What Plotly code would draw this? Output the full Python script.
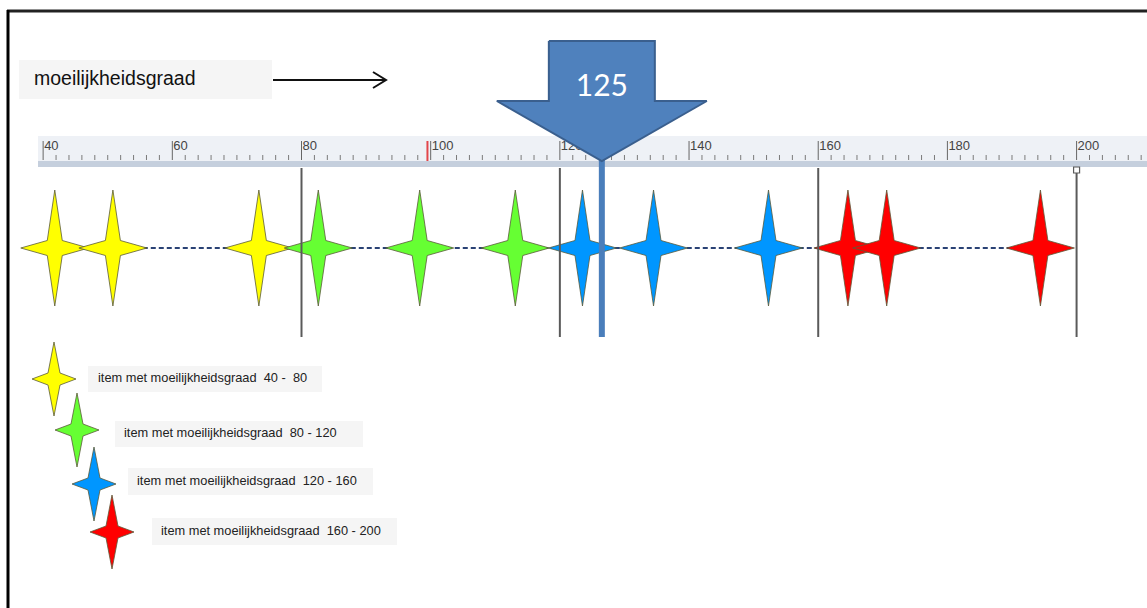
import plotly.graph_objects as go

# ---------------- data ----------------
band_edges = [40, 80, 120, 160, 200]
band_colors = ["#ffff00", "#66ff33", "#0096ff", "#ff0000"]
items_yellow = [41.8, 50.8, 73.4]
items_green = [82.6, 98.3, 113.1]
items_blue = [123.5, 134.5, 152.3]
items_red = [164.6, 170.6, 194.4]
item_groups = [items_yellow, items_green, items_blue, items_red]
major_ticks = [40, 60, 80, 100, 120, 140, 160, 180, 200]
minor_step = 2
cursor_value = 99.5          # red marker on the ruler
ability_value = 126.5        # position of the big arrow
ability_label = "125"
axis_title = "moeilijkheidsgraad"

# ---------------- geometry / style ----------------
W, H = 1147, 608
PX_PER_UNIT = 6.459
X0_VAL, X0_PX = 80, 301.5
x_min = X0_VAL - X0_PX / PX_PER_UNIT
x_max = X0_VAL + (W - X0_PX) / PX_PER_UNIT

STAR_Y = 248
RULER_TOP, RULER_BAND, RULER_BOT = 136, 161, 167

fig = go.Figure()


def star(cx, cy, hw, hh, iw, ih):
    xs = [cx, cx + iw, cx + hw, cx + iw, cx, cx - iw, cx - hw, cx - iw, cx]
    ys = [cy - hh, cy - ih, cy, cy + ih, cy + hh, cy + ih, cy, cy - ih, cy - hh]
    return xs, ys


def px(v):  # pixel width -> data units
    return v / PX_PER_UNIT


shapes = []
shapes.append(dict(type="rect", xref="x2", yref="y", x0=38, x1=W, y0=RULER_TOP, y1=RULER_BAND,
                   fillcolor="#eef1f6", line=dict(width=0), layer="below"))
shapes.append(dict(type="rect", xref="x2", yref="y", x0=38, x1=W, y0=RULER_BAND, y1=RULER_BOT,
                   fillcolor="#c5cfdd", line=dict(width=0), layer="below"))
# frame lines
shapes.append(dict(type="line", xref="x2", yref="y", x0=7, x1=W, y0=11, y1=11,
                   line=dict(color="#222222", width=3)))
shapes.append(dict(type="line", xref="x2", yref="y", x0=8, x1=8, y0=10, y1=H,
                   line=dict(color="#000000", width=3)))
# title box
shapes.append(dict(type="rect", xref="x2", yref="y", x0=19, x1=272, y0=60, y1=99,
                   fillcolor="#f5f5f5", line=dict(width=0), layer="below"))
# legend boxes
legend_boxes = [(88, 322, 366, 392), (115, 363, 421, 447), (128, 373, 468, 495), (152, 397, 518, 545)]
for (bx0, bx1, by0, by1) in legend_boxes:
    shapes.append(dict(type="rect", xref="x2", yref="y", x0=bx0, x1=bx1, y0=by0, y1=by1,
                       fillcolor="#f5f5f5", line=dict(width=0), layer="below"))

# minor ticks
minor_vals = [v for v in range(42, 211, minor_step) if v not in major_ticks]
mx, my = [], []
for v in minor_vals:
    mx += [v, v, None]
    my += [155, 160, None]
fig.add_trace(go.Scatter(x=mx, y=my, mode="lines", line=dict(color="#7a7a7a", width=1),
                         hoverinfo="skip", showlegend=False))
# major ticks
Mx, My = [], []
for v in major_ticks:
    Mx += [v, v, None]
    My += [141, 160, None]
fig.add_trace(go.Scatter(x=Mx, y=My, mode="lines", line=dict(color="#666666", width=1),
                         hoverinfo="skip", showlegend=False))
fig.add_trace(go.Scatter(x=[v + px(1) for v in major_ticks], y=[147] * len(major_ticks),
                         mode="text", text=[str(v) for v in major_ticks],
                         textposition="middle right",
                         textfont=dict(family="Liberation Sans, Arial", size=13, color="#444444"),
                         hoverinfo="skip", showlegend=False))
# red cursor on ruler
fig.add_trace(go.Scatter(x=[cursor_value, cursor_value], y=[141, 161], mode="lines",
                         line=dict(color="#e2454a", width=2), hoverinfo="skip", showlegend=False))

# dashed connector line
all_items = [v for g in item_groups for v in g]
fig.add_trace(go.Scatter(x=[min(all_items), max(all_items)], y=[STAR_Y, STAR_Y], mode="lines",
                         line=dict(color="#2a4275", width=2, dash="5px,3px"),
                         hoverinfo="skip", showlegend=False))

# item stars
for vals, col in zip(item_groups, band_colors):
    for v in vals:
        xs, ys = star(v, STAR_Y, px(34), 58, px(7.5), 7.5)
        fig.add_trace(go.Scatter(x=xs, y=ys, mode="lines", fill="toself", fillcolor=col,
                                 line=dict(color="#5a5a3a", width=0.8),
                                 hoverinfo="skip", showlegend=False))

# band boundary lines
for v in band_edges[1:]:
    fig.add_trace(go.Scatter(x=[v, v], y=[168, 337], mode="lines",
                             line=dict(color="#5a5a5a", width=2),
                             hoverinfo="skip", showlegend=False))
fig.add_trace(go.Scatter(x=[band_edges[-1]], y=[170], mode="markers",
                         marker=dict(symbol="square", size=6, color="white",
                                     line=dict(color="#5a5a5a", width=1.2)),
                         hoverinfo="skip", showlegend=False))

# ability line + arrow
fig.add_trace(go.Scatter(x=[ability_value, ability_value], y=[160, 337], mode="lines",
                         line=dict(color="#4a7ebb", width=6), hoverinfo="skip", showlegend=False))
sw, hw = px(53), px(105)
ax = [ability_value - sw, ability_value + sw, ability_value + sw, ability_value + hw,
      ability_value, ability_value - hw, ability_value - sw, ability_value - sw]
ay = [41, 41, 101, 101, 161, 101, 101, 41]
fig.add_trace(go.Scatter(x=ax, y=ay, mode="lines", fill="toself", fillcolor="#4f81bd",
                         line=dict(color="#3a5f8e", width=2), hoverinfo="skip", showlegend=False))
fig.add_trace(go.Scatter(x=[ability_value], y=[88], mode="text", text=[ability_label],
                         textfont=dict(family="Lato, Open Sans", size=30, color="white"),
                         hoverinfo="skip", showlegend=False))

# title text and arrow (pixel axis)
fig.add_trace(go.Scatter(x=[34], y=[80], xaxis="x2", mode="text", text=[axis_title],
                         textposition="middle right",
                         textfont=dict(family="Liberation Sans, Arial", size=19.5, color="#111111"),
                         hoverinfo="skip", showlegend=False))
fig.add_trace(go.Scatter(x=[273, 386, None, 373, 386, 373], y=[80, 80, None, 72, 80, 88],
                         xaxis="x2", mode="lines", line=dict(color="#111111", width=2),
                         hoverinfo="skip", showlegend=False))

# legend stars and labels
legend_star_pos = [(54, 379), (77, 430), (94, 484), (112, 532)]
legend_text_pos = [(98, 379), (124, 434), (137, 482), (161, 532)]
for i, col in enumerate(band_colors):
    cx, cy = legend_star_pos[i]
    xs, ys = star(cx, cy, 22, 37, 6, 6)
    fig.add_trace(go.Scatter(x=xs, y=ys, xaxis="x2", mode="lines", fill="toself", fillcolor=col,
                             line=dict(color="#5a5a3a", width=0.8),
                             hoverinfo="skip", showlegend=False))
    lo, hi = band_edges[i], band_edges[i + 1]
    label = f"item met moeilijkheidsgraad  {lo} - {hi:>3}".replace(" ", "\u00a0")
    tx, ty = legend_text_pos[i]
    fig.add_trace(go.Scatter(x=[tx], y=[ty], xaxis="x2", mode="text", text=[label],
                             textposition="middle right",
                             textfont=dict(family="Liberation Sans, Arial", size=12.8, color="#222222"),
                             hoverinfo="skip", showlegend=False))

fig.update_layout(
    width=W, height=H,
    margin=dict(l=0, r=0, t=0, b=0),
    paper_bgcolor="white", plot_bgcolor="white",
    hovermode=False,
    shapes=shapes,
    xaxis=dict(range=[x_min, x_max], visible=False, fixedrange=True),
    xaxis2=dict(range=[0, W], visible=False, overlaying="x", anchor="y", fixedrange=True),
    yaxis=dict(range=[H, 0], visible=False, fixedrange=True),
)

fig.write_html("out.html", config={"displayModeBar": False},
               post_script="document.body.style.margin='0';document.body.style.overflow='hidden';")
